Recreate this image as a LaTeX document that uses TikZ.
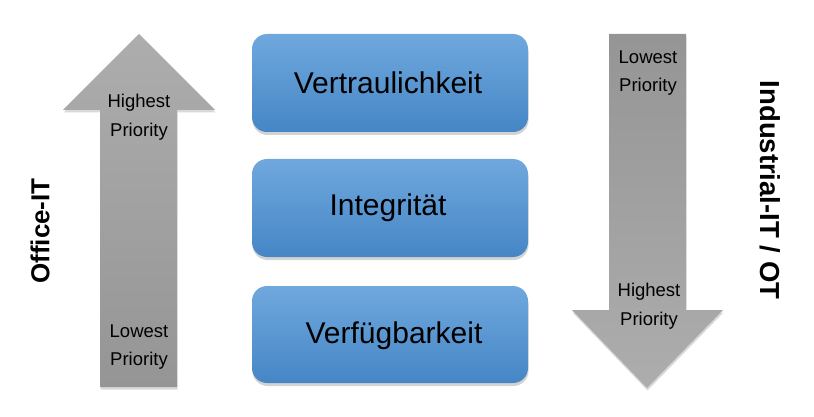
\documentclass[tikz,border=0pt]{standalone}
\usepackage{fontspec}
\setmainfont{Liberation Sans}
\usetikzlibrary{shadows}
\definecolor{boxtop}{HTML}{6FA8DD}
\definecolor{boxbot}{HTML}{4686C6}
\definecolor{grayA}{HTML}{ADADAD}
\definecolor{grayB}{HTML}{959595}
\tikzset{
  valbox/.style={rounded corners=15pt, top color=boxtop, bottom color=boxbot,
    drop shadow={shadow xshift=0.5pt, shadow yshift=-3pt, opacity=0.35}},
  valtext/.style={font=\fontsize{30}{36}\selectfont, text=black, inner sep=0pt},
  prio/.style={font=\fontsize{18.5}{28.5}\selectfont, align=center, inner sep=0pt, text=black},
  side/.style={font=\bfseries, text=black, inner sep=0pt},
  arrowshade/.style={drop shadow={shadow xshift=0.5pt, shadow yshift=-2.5pt, opacity=0.3}}
}
\begin{document}
\begin{tikzpicture}[x=1pt,y=-1pt]
\useasboundingbox (0,0) rectangle (814,417);
% left arrow (up)
\shade[top color=grayA, bottom color=grayB, arrowshade]
  (100,387) -- (100,110) -- (63,110) -- (139,34) -- (215,110) -- (177,110) -- (177,387) -- cycle;
% right arrow (down)
\shade[top color=grayB, bottom color=grayA, arrowshade]
  (609,34) -- (686,34) -- (686,310) -- (723,310) -- (647,388) -- (572,310) -- (609,310) -- cycle;
% boxes
\shade[valbox] (252,34) rectangle (528,132);
\shade[valbox] (252,159) rectangle (528,257);
\shade[valbox] (252,286) rectangle (528,383);
\node[valtext] (v) at (388,83) {Vertraulichkeit};
\node[valtext] (i) at (388,208) {Integrität};
\node[valtext] (a) at (394,336) {Verfügbarkeit};
% priority labels
\node[prio] (lh) at (139,117) {Highest\\Priority};
\node[prio] (ll) at (139,347) {Lowest\\Priority};
\node[prio] (rl) at (648,73) {Lowest\\Priority};
\node[prio] (rh) at (649,306) {Highest\\Priority};
% side labels
\node[side, rotate=90, font=\fontsize{26}{30}\selectfont\bfseries] (office) at (40,231) {Office-IT};
\node[side, rotate=-90, font=\fontsize{27.5}{30}\selectfont\bfseries] (ind) at (770,190) {Industrial-IT / OT};
\end{tikzpicture}
\end{document}
